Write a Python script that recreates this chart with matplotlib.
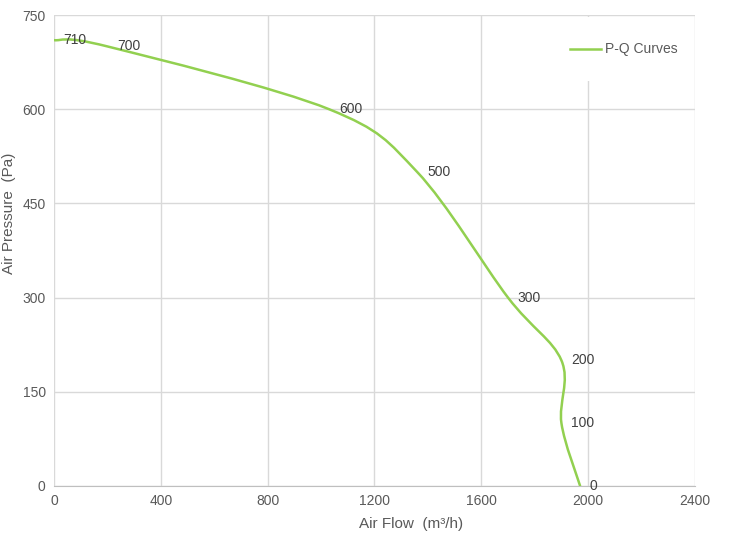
import matplotlib.pyplot as plt
from matplotlib.path import Path
from matplotlib.patches import PathPatch, Rectangle
from matplotlib.lines import Line2D

# P-Q curve points
flow = [0, 200, 1030, 1360, 1700, 1900, 1900, 1970]
pressure = [710, 700, 600, 500, 300, 200, 100, 0]
point_labels = ["710", "700", "600", "500", "300", "200", "100", "0"]

x_ticks = [0, 400, 800, 1200, 1600, 2000, 2400]
y_ticks = [0, 150, 300, 450, 600, 750]

GREEN = "#92D050"
TEXT = "#595959"
GRID = "#d9d9d9"

plt.rcParams['font.family'] = ['Liberation Sans', 'DejaVu Sans']

fig = plt.figure(figsize=(7.3, 5.37), dpi=100)
ax = fig.add_axes([0.074, 0.095, 0.878, 0.877])


# smoothed line like a spreadsheet "smooth line": cubic bezier through the points
def smooth_path(xs, ys):
    pts = list(zip(xs, ys))
    n = len(pts)
    verts = [pts[0]]
    codes = [Path.MOVETO]
    for i in range(n - 1):
        p0 = pts[i - 1] if i > 0 else pts[i]
        p1 = pts[i]
        p2 = pts[i + 1]
        p3 = pts[i + 2] if i + 2 < n else pts[i + 1]
        c1 = (p1[0] + (p2[0] - p0[0]) / 6, p1[1] + (p2[1] - p0[1]) / 6)
        c2 = (p2[0] - (p3[0] - p1[0]) / 6, p2[1] - (p3[1] - p1[1]) / 6)
        verts += [c1, c2, p2]
        codes += [Path.CURVE4] * 3
    return Path(verts, codes)


ax.add_patch(PathPatch(smooth_path(flow, pressure), facecolor='none',
                       edgecolor=GREEN, lw=1.8, zorder=3, capstyle='round'))

for fx, py, lab in zip(flow, pressure, point_labels):
    ax.annotate(lab, (fx, py), xytext=(7, 0), textcoords='offset points',
                ha='left', va='center', fontsize=10, color="#404040", zorder=4)

ax.set_xlim(0, 2400)
ax.set_ylim(0, 750)
ax.set_xticks(x_ticks)
ax.set_yticks(y_ticks)
ax.grid(True, color=GRID, lw=1)
ax.set_axisbelow(True)
for s in ['top', 'right', 'left']:
    ax.spines[s].set_visible(False)
ax.spines['bottom'].set_color("#bfbfbf")
ax.tick_params(length=0, labelsize=10, labelcolor=TEXT, pad=6)

ax.set_xlabel("Air Flow  (m³/h)", fontsize=11, color=TEXT)
ax.set_ylabel("Air Pressure  (Pa)", fontsize=11, color=TEXT)
ax.xaxis.set_label_coords(0.557, -0.066)
ax.yaxis.set_label_coords(-0.06, 0.58)

# legend area (white box hides the grid behind it)
ax.add_patch(Rectangle((0.758, 0.86), 0.234, 0.135, transform=ax.transAxes,
                       facecolor='white', edgecolor='none', zorder=2))
handle = Line2D([], [], color=GREEN, lw=1.8)
ax.legend([handle], ["P-Q Curves"], loc='center left',
          bbox_to_anchor=(0.786, 0.927), frameon=False, fontsize=10,
          handlelength=2.2, handletextpad=0.3, labelcolor=TEXT)

fig.savefig("out.png", dpi=100)
